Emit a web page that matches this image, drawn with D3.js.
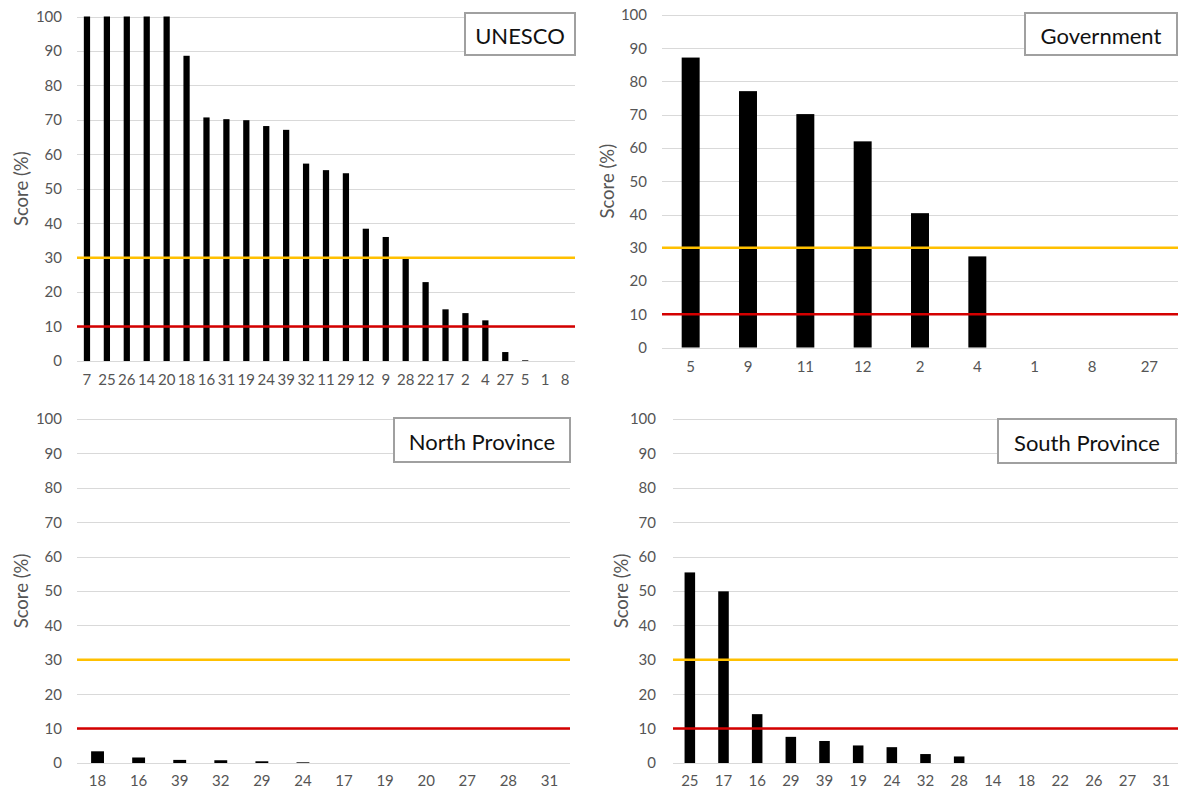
<!DOCTYPE html>
<html>
<head>
<meta charset="utf-8">
<script src="https://cdn.jsdelivr.net/npm/d3@7"></script>
<style>
  html, body { margin: 0; padding: 0; background: #fff; }
  svg { display: block; }
  text { font-family: Lato, "Open Sans", sans-serif; }
</style>
</head>
<body>
<svg id="chart" width="1178" height="793"></svg>
<script>
// ---------- data ----------
const unescoCats = ["7","25","26","14","20","18","16","31","19","24","39","32","11","29","12","9","28","22","17","2","4","27","5","1","8"];
const unescoVals = [100,100,100,100,100,88.6,70.7,70.2,69.9,68.2,67.1,57.3,55.4,54.5,38.4,36.0,29.8,22.9,15.0,13.9,11.8,2.6,0.2,0,0];

const govCats = ["5","9","11","12","2","4","1","8","27"];
const govVals = [87.2,77.1,70.2,62.0,40.4,27.4,0,0,0];

const northCats = ["18","16","39","32","29","24","17","19","20","27","28","31"];
const northVals = [3.4,1.6,0.9,0.8,0.5,0.2,0,0,0,0,0,0];

const southCats = ["25","17","16","29","39","19","24","32","28","14","18","22","26","27","31"];
const southVals = [55.4,49.9,14.2,7.6,6.4,5.1,4.6,2.6,1.9,0,0,0,0,0,0];

const yTicks = [0,10,20,30,40,50,60,70,80,90,100];
const thresholdValues = [30, 10];
const thresholdColors = ["#FFC000", "#D40000"];
const panelTitles = ["UNESCO", "Government", "North Province", "South Province"];
const yAxisTitle = "Score (%)";

// ---------- layout ----------
const panels = [
  { cats: unescoCats, vals: unescoVals, title: panelTitles[0],
    x0: 77, x1: 575, yTop: 16.5, yBot: 361, labRight: 62, xLabY: 382, yTitleX: 21,
    box: {x: 465, y: 13, w: 110, h: 42} },
  { cats: govCats, vals: govVals, title: panelTitles[1],
    x0: 662, x1: 1178, yTop: 15, yBot: 347.5, labRight: 647, xLabY: 369, yTitleX: 607,
    box: {x: 1025, y: 13, w: 152, h: 42} },
  { cats: northCats, vals: northVals, title: panelTitles[2],
    x0: 77, x1: 570, yTop: 419, yBot: 763, labRight: 62, xLabY: 783, yTitleX: 21,
    box: {x: 394, y: 418, w: 176, h: 44} },
  { cats: southCats, vals: southVals, title: panelTitles[3],
    x0: 673, x1: 1178, yTop: 419, yBot: 763, labRight: 656, xLabY: 783, yTitleX: 621,
    box: {x: 998, y: 419, w: 178, h: 44} }
];

const svg = d3.select("#chart");
const gap = 1 - 1 / 3.19; // Excel default gap width 219%

panels.forEach(p => {
  const g = svg.append("g");
  const x = d3.scaleBand().domain(p.cats).range([p.x0, p.x1])
    .paddingInner(gap).paddingOuter(gap / 2);
  const y = d3.scaleLinear().domain([0, 100]).range([p.yBot, p.yTop]);

  // gridlines
  g.append("g").selectAll("line").data(yTicks).join("line")
    .attr("x1", p.x0).attr("x2", p.x1)
    .attr("y1", d => Math.round(y(d)) + 0.5).attr("y2", d => Math.round(y(d)) + 0.5)
    .attr("stroke", "#d9d9d9").attr("stroke-width", 1);

  // y tick labels via axis
  const yAxis = d3.axisLeft(y).tickValues(yTicks).tickSize(0).tickPadding(0);
  const ya = g.append("g").attr("transform", `translate(${p.labRight},0)`).call(yAxis);
  ya.select(".domain").remove();
  ya.selectAll("text").attr("fill", "#555").style("font-size", "15px")
    .style("font-family", "Lato, 'Open Sans', sans-serif");

  // x tick labels via axis
  const xAxis = d3.axisBottom(x).tickSize(0).tickPadding(0);
  const xa = g.append("g").attr("transform", `translate(0,${p.xLabY - 8})`).call(xAxis);
  xa.select(".domain").remove();
  xa.selectAll("text").attr("fill", "#555").style("font-size", "15px")
    .style("font-family", "Lato, 'Open Sans', sans-serif").attr("dy", "0.71em");

  // bars
  g.append("g").selectAll("rect").data(p.cats.map((c, i) => ({c, v: p.vals[i]})))
    .join("rect")
    .attr("x", d => x(d.c)).attr("width", x.bandwidth())
    .attr("y", d => y(d.v)).attr("height", d => y(0) - y(d.v))
    .attr("fill", "#000");

  // threshold lines
  g.append("g").selectAll("line").data(thresholdValues).join("line")
    .attr("x1", p.x0).attr("x2", p.x1)
    .attr("y1", d => y(d)).attr("y2", d => y(d))
    .attr("stroke", (d, i) => thresholdColors[i]).attr("stroke-width", 2.5);

  // y axis title
  g.append("text")
    .attr("transform", `translate(${p.yTitleX},${(p.yTop + p.yBot) / 2}) rotate(-90)`)
    .attr("text-anchor", "middle").attr("dominant-baseline", "central")
    .attr("fill", "#555").style("font-size", "18.5px").text(yAxisTitle);

  // legend / title box
  g.append("rect").attr("x", p.box.x).attr("y", p.box.y)
    .attr("width", p.box.w).attr("height", p.box.h)
    .attr("fill", "#fff").attr("stroke", "#a0a0a0").attr("stroke-width", 2);
  g.append("text").attr("x", p.box.x + p.box.w / 2).attr("y", p.box.y + p.box.h / 2 + 1)
    .attr("text-anchor", "middle").attr("dominant-baseline", "central")
    .attr("fill", "#111").style("font-size", "22px").text(p.title);
});
</script>
</body>
</html>
